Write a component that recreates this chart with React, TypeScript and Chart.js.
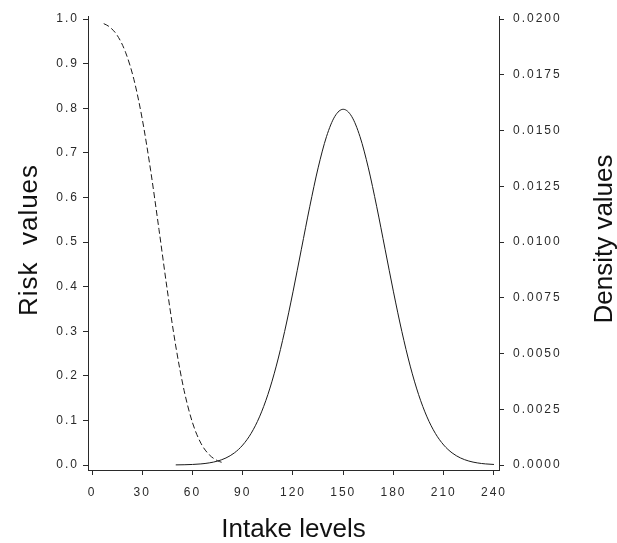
import React, { useEffect, useRef } from "react";
import { Chart, registerables } from "chart.js";

Chart.register(...registerables);

const riskX = [7, 10, 15, 20, 25, 30, 35, 40, 45, 50, 55, 60, 65, 70, 75, 78];
const riskY = [0.99, 0.984, 0.964, 0.926, 0.865, 0.776, 0.661, 0.528, 0.391, 0.267, 0.167, 0.095, 0.049, 0.023, 0.0095, 0.0054];

const densityX = [
  50, 55, 60, 65, 70, 75, 80, 85, 90, 95, 100, 105, 110, 115, 120, 125, 130, 135, 140, 145, 150,
  155, 160, 165, 170, 175, 180, 185, 190, 195, 200, 205, 210, 215, 220, 225, 230, 235, 240,
];
const densityY = [
  0.0000054, 0.0000117, 0.0000245, 0.0000493, 0.0000954, 0.000177, 0.000317, 0.000543, 0.000896,
  0.001419, 0.00216, 0.003158, 0.004436, 0.005989, 0.007768, 0.009679, 0.011587, 0.01333, 0.014731,
  0.015642, 0.015958, 0.015642, 0.014731, 0.01333, 0.011587, 0.009679, 0.007768, 0.005989, 0.004436,
  0.003158, 0.00216, 0.001419, 0.000896, 0.000543, 0.000317, 0.000177, 0.0000954, 0.0000493,
  0.0000245,
];

const xTicks = [0, 30, 60, 90, 120, 150, 180, 210, 240];
const riskTicks = [0, 0.1, 0.2, 0.3, 0.4, 0.5, 0.6, 0.7, 0.8, 0.9, 1.0];
const densityTicks = [0, 0.0025, 0.005, 0.0075, 0.01, 0.0125, 0.015, 0.0175, 0.02];

const xTitle = "Intake levels";
const leftTitle = "Risk  values";
const rightTitle = "Density values";

const FONT = '"Liberation Sans", Arial, Helvetica, sans-serif';
const INK = "#2a2a2a";

const spacingPlugin = {
  id: "tickSpacing",
  beforeDraw(chart: any) {
    chart.ctx.letterSpacing = "2px";
  },
};

const titlePlugin = {
  id: "customTitles",
  afterDraw(chart: any) {
    const { ctx, chartArea } = chart;
    ctx.save();
    ctx.letterSpacing = "0px";
    ctx.fillStyle = "#111";
    ctx.font = `26px ${FONT}`;
    ctx.textAlign = "center";
    ctx.textBaseline = "alphabetic";
    ctx.fillText(xTitle, (chartArea.left + chartArea.right) / 2, 537);
    ctx.save();
    ctx.letterSpacing = "1px";
    ctx.translate(37, 240);
    ctx.rotate(-Math.PI / 2);
    ctx.fillText(leftTitle, 0, 0);
    ctx.restore();
    ctx.save();
    ctx.letterSpacing = "0px";
    ctx.translate(612, 239);
    ctx.rotate(-Math.PI / 2);
    ctx.fillText(rightTitle, 0, 0);
    ctx.restore();
    ctx.restore();
  },
};

export default function App() {
  const ref = useRef<HTMLCanvasElement | null>(null);
  useEffect(() => {
    if (!ref.current) return;
    const gridCfg = {
      display: true,
      drawOnChartArea: false,
      drawTicks: true,
      tickLength: 5,
      color: INK,
      lineWidth: 1,
    };
    const chart = new Chart(ref.current, {
      type: "line",
      data: {
        datasets: [
          {
            label: "Risk",
            data: riskX.map((x, i) => ({ x, y: riskY[i] })),
            yAxisID: "yRisk",
            borderColor: "#1a1a1a",
            borderWidth: 1,
            borderDash: [6, 3],
            pointRadius: 0,
            cubicInterpolationMode: "monotone",
            fill: false,
          },
          {
            label: "Density",
            data: densityX.map((x, i) => ({ x, y: densityY[i] })),
            yAxisID: "yDensity",
            borderColor: "#1a1a1a",
            borderWidth: 1,
            pointRadius: 0,
            cubicInterpolationMode: "monotone",
            fill: false,
          },
        ],
      },
      options: {
        responsive: false,
        animation: false,
        layout: { padding: { top: 14, left: 0, right: 0, bottom: 0 } },
        plugins: { legend: { display: false }, tooltip: { enabled: false } },
        scales: {
          x: {
            type: "linear",
            min: -2.39,
            max: 243,
            afterBuildTicks: (s: any) => {
              s.ticks = xTicks.map((v) => ({ value: v }));
            },
            afterFit: (s: any) => {
              s.height = 73;
            },
            grid: gridCfg,
            border: { display: true, color: INK, width: 1 },
            ticks: {
              autoSkip: false,
              maxRotation: 0,
              padding: 10,
              color: INK,
              font: { size: 12, family: FONT },
              callback: (v: any) => String(v),
            },
          },
          yRisk: {
            type: "linear",
            position: "left",
            min: -0.0112,
            max: 1.0067,
            afterBuildTicks: (s: any) => {
              s.ticks = riskTicks.map((v) => ({ value: v }));
            },
            afterFit: (s: any) => {
              s.width = 88;
            },
            grid: gridCfg,
            border: { display: true, color: INK, width: 1 },
            ticks: {
              padding: 4,
              color: INK,
              font: { size: 12, family: FONT },
              callback: (v: any) => Number(v).toFixed(1),
            },
          },
          yDensity: {
            type: "linear",
            position: "right",
            min: -0.000224,
            max: 0.020134,
            afterBuildTicks: (s: any) => {
              s.ticks = densityTicks.map((v) => ({ value: v }));
            },
            afterFit: (s: any) => {
              s.width = 118;
            },
            grid: gridCfg,
            border: { display: true, color: INK, width: 1 },
            ticks: {
              padding: 9,
              color: INK,
              font: { size: 12, family: FONT },
              callback: (v: any) => Number(v).toFixed(4),
            },
          },
        },
      },
      plugins: [spacingPlugin, titlePlugin],
    } as any);
    return () => chart.destroy();
  }, []);
  return (
    <canvas
      ref={ref}
      width={617}
      height={543}
      style={{ position: "fixed", left: 0, top: 0, width: 617, height: 543, background: "#fff" }}
    />
  );
}
